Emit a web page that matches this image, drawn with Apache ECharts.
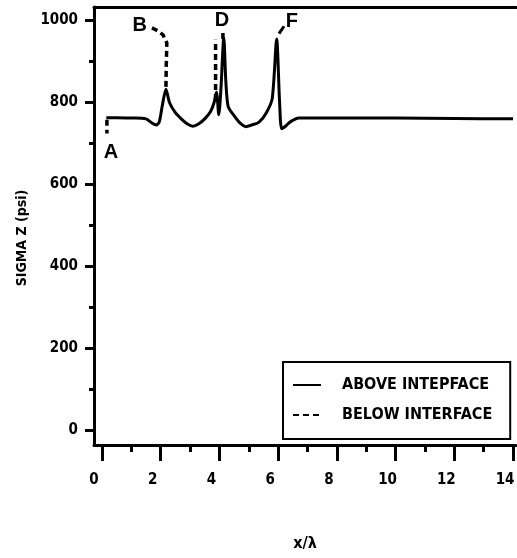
<!DOCTYPE html>
<html>
<head>
<meta charset="utf-8">
<script src="https://cdn.jsdelivr.net/npm/echarts@6/dist/echarts.min.js"></script>
<style>html,body{margin:0;padding:0;background:#fff;}#c{width:517px;height:558px;}</style>
</head>
<body>
<div id="c"></div>
<script>
// x/λ tick labels
var xMajor = [0, 2, 4, 6, 8, 10, 12, 14];
var xMinor = [1, 3, 5, 7, 9, 11, 13];
// SIGMA Z tick labels
var yMajor = [0, 200, 400, 600, 800, 1000];
var yMinor = [100, 300, 500, 700, 900];

// ABOVE INTEPFACE (solid)
var aboveX = [0.15, 0.5, 1.0, 1.5, 1.7, 1.85, 1.95, 2.05, 2.18, 2.3, 2.5, 2.7, 2.9, 3.1, 3.3, 3.5, 3.7, 3.82, 3.9, 3.98, 4.05, 4.15, 4.22, 4.3, 4.5, 4.7, 4.9, 5.1, 5.35, 5.6, 5.8, 5.95, 6.05, 6.12, 6.25, 6.4, 6.7, 8, 10, 12, 14];
var aboveY = [763, 763, 762, 760, 750, 745, 752, 790, 832, 800, 775, 760, 748, 742, 748, 760, 778, 800, 825, 770, 830, 958, 850, 790, 768, 750, 741, 745, 752, 775, 810, 955, 800, 736, 742, 752, 762, 762, 762, 761, 760];

// BELOW INTERFACE (dashed), null separates pieces
var belowX = [0.17, 0.17, null, 2.18, 2.19, 2.21, 2.08, 1.9, 1.7, null, 3.87, 3.87, null, 4.12, 4.12];
var belowY = [758, 724, null, 838, 890, 945, 965, 975, 982, null, 806, 953, null, 955, 972];

// F leader stroke
var leaderX = [6.03, 6.2];
var leaderY = [968, 986];

// point annotations
var noteText = ['A', 'B', 'D', 'F'];
var noteX = [0.31, 1.29, 4.09, 6.47];
var noteY = [677, 987, 999, 997];

function pairs(xs, ys) {
  return xs.map(function (x, i) { return x === null ? [null, null] : [x, ys[i]]; });
}

var FONT = '"DejaVu Sans Condensed", "Liberation Sans Narrow", "Liberation Sans", sans-serif';
var chart = echarts.init(document.getElementById('c'), null, {renderer: 'canvas'});
chart.setOption({
  animation: false,
  backgroundColor: '#fff',
  grid: {left: 94, right: 1, top: 7, bottom: 113, show: false,
    containLabel: false, outerBoundsMode: 'none'},
  xAxis: [{
    type: 'value', min: -0.27, max: 14.1, position: 'bottom',
    name: 'x/λ', nameLocation: 'middle', nameGap: 91,
    nameTextStyle: {fontFamily: FONT, fontWeight: 'bold', fontSize: 16, color: '#000'},
    splitLine: {show: false},
    axisLine: {show: true, onZero: false, lineStyle: {color: '#000', width: 3}},
    axisTick: {show: true, customValues: xMajor, length: 16, inside: false, lineStyle: {color: '#000', width: 3}},
    axisLabel: {customValues: xMajor, margin: 28, padding: [0, 16, 0, 0], fontFamily: FONT, fontWeight: 'bold', fontSize: 15, color: '#000'}
  }, {
    type: 'value', min: -0.27, max: 14.1, position: 'bottom',
    splitLine: {show: false},
    axisLine: {show: false, onZero: false},
    axisTick: {show: true, customValues: xMinor, length: 7, lineStyle: {color: '#000', width: 3}},
    axisLabel: {show: false}
  }, {
    type: 'value', min: -0.27, max: 14.1, position: 'top',
    splitLine: {show: false},
    axisLine: {show: true, onZero: false, lineStyle: {color: '#000', width: 3}},
    axisTick: {show: false},
    axisLabel: {show: false}
  }],
  yAxis: [{
    type: 'value', min: -36, max: 1033,
    name: 'SIGMA Z (psi)', nameLocation: 'middle', nameGap: 62, nameRotate: 90,
    nameTextStyle: {fontFamily: FONT, fontWeight: 'bold', fontSize: 14, color: '#000', padding: [0, 24, 0, 0]},
    splitLine: {show: false},
    axisLine: {show: true, onZero: false, lineStyle: {color: '#000', width: 3}},
    axisTick: {show: true, customValues: yMajor, length: 9, lineStyle: {color: '#000', width: 3}},
    axisLabel: {customValues: yMajor, margin: 16, fontFamily: FONT, fontWeight: 'bold', fontSize: 15, color: '#000',
      formatter: function (v) { return String(v); }}
  }, {
    type: 'value', min: -36, max: 1033, position: 'left',
    splitLine: {show: false},
    axisLine: {show: false, onZero: false},
    axisTick: {show: true, customValues: yMinor, length: 5, lineStyle: {color: '#000', width: 3}},
    axisLabel: {show: false}
  }],
  legend: {
    data: ['ABOVE INTEPFACE', 'BELOW INTERFACE'],
    orient: 'vertical', left: 283, top: 362,
    padding: [15, 18, 16, 9],
    itemWidth: 28, itemHeight: 14, itemGap: 14,
    borderColor: '#000', borderWidth: 2, backgroundColor: '#fff',
    itemStyle: {opacity: 0},
    textStyle: {fontFamily: FONT, fontWeight: 'bold', fontSize: 16, color: '#000', padding: [0, 0, 0, 16]}
  },
  series: [{
    name: 'ABOVE INTEPFACE', type: 'line', symbol: 'none', smooth: 0.25,
    lineStyle: {color: '#000', width: 3, type: 'solid'},
    itemStyle: {color: '#000'},
    data: pairs(aboveX, aboveY), z: 3
  }, {
    name: 'BELOW INTERFACE', type: 'line', symbol: 'none', connectNulls: false,
    lineStyle: {color: '#000', width: 3.5, type: [6, 4]},
    itemStyle: {color: '#000'},
    data: pairs(belowX, belowY), z: 3
  }, {
    name: 'leader', type: 'line', symbol: 'none',
    lineStyle: {color: '#000', width: 3},
    data: pairs(leaderX, leaderY)
  }, {
    name: 'notes', type: 'scatter', symbolSize: 0,
    itemStyle: {opacity: 1, color: '#000'},
    label: {show: true, position: 'inside', fontFamily: '"Liberation Sans", Arial, sans-serif', fontWeight: 'bold', fontSize: 20, color: '#000', opacity: 1},
    labelLayout: {},
    data: pairs(noteX, noteY).map(function (p, i) {
      return {value: p, label: {formatter: noteText[i]}};
    })
  }]
});
</script>
</body>
</html>
